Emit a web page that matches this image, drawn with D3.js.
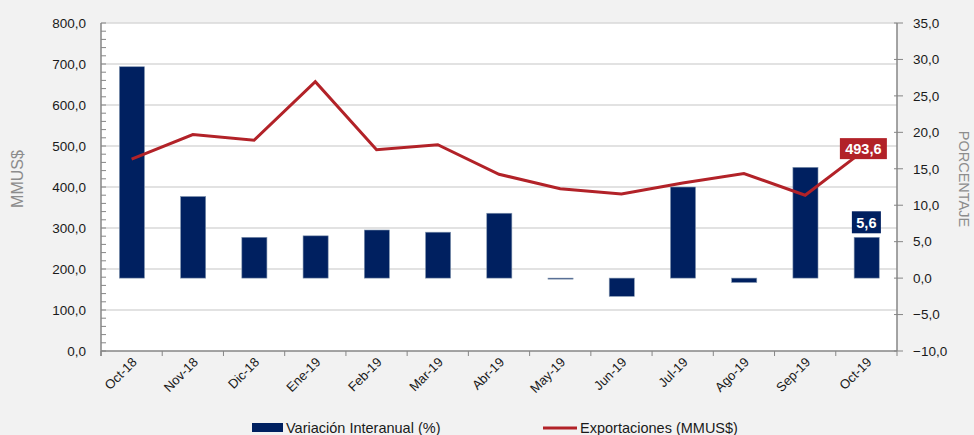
<!DOCTYPE html>
<html>
<head>
<meta charset="utf-8">
<script src="https://cdn.jsdelivr.net/npm/d3@7"></script>
<style>
  body { margin: 0; background: #f2f2f2; }
  svg { display: block; font-family: "Liberation Sans", Arial, sans-serif; }
</style>
</head>
<body>
<div id="chart"></div>
<script>
// data
const months = ["Oct-18", "Nov-18", "Dic-18", "Ene-19", "Feb-19", "Mar-19", "Abr-19",
                "May-19", "Jun-19", "Jul-19", "Ago-19", "Sep-19", "Oct-19"];
const variacion = [29.0, 11.2, 5.6, 5.8, 6.6, 6.3, 8.9, -0.1, -2.5, 12.5, -0.6, 15.2, 5.6];
const exportaciones = [468, 528, 514, 657, 491, 503, 431, 396, 383, 410, 433, 380, 493.6];
const leftTicks = [0, 100, 200, 300, 400, 500, 600, 700, 800];
const rightTicks = [-10, -5, 0, 5, 10, 15, 20, 25, 30, 35];

const width = 974, height = 435;
const margin = {top: 23, right: 77, bottom: 84, left: 101};
const fmt = d => d3.format(".1f")(d).replace(".", ",");

const svg = d3.select("#chart").append("svg")
    .attr("width", width)
    .attr("height", height);

const x = d3.scaleBand()
    .domain(months)
    .range([margin.left, width - margin.right]);

const yL = d3.scaleLinear()
    .domain([0, 800])
    .range([height - margin.bottom, margin.top]);

const yR = d3.scaleLinear()
    .domain([-10, 35])
    .range([height - margin.bottom, margin.top]);

const plotL = margin.left, plotR = width - margin.right;
const plotT = margin.top, plotB = height - margin.bottom;

// plot area
svg.append("rect")
    .attr("x", plotL).attr("y", plotT)
    .attr("width", plotR - plotL).attr("height", plotB - plotT)
    .style("fill", "white");

// gridlines
svg.append("g").selectAll("line")
    .data(leftTicks.filter(d => d > 0))
    .enter().append("line")
    .attr("x1", plotL).attr("x2", plotR)
    .attr("y1", d => yL(d)).attr("y2", d => yL(d))
    .style("stroke", "#d9d9d9")
    .style("stroke-width", 1.5);

// bars
svg.append("g").selectAll("rect")
    .data(variacion)
    .enter().append("rect")
    .attr("x", (d, i) => x(months[i]) + x.bandwidth() * 0.3)
    .attr("width", x.bandwidth() * 0.41)
    .attr("y", d => yR(Math.max(d, 0)))
    .attr("height", d => Math.max(Math.abs(yR(d) - yR(0)), 1))
    .style("fill", "#002060")
    .style("stroke", "#8497b0")
    .style("stroke-width", 0.6);

// line
const line = d3.line()
    .x((d, i) => x(months[i]) + x.bandwidth() / 2)
    .y(d => yL(d));

svg.append("path")
    .datum(exportaciones)
    .attr("d", line)
    .style("fill", "none")
    .style("stroke", "#b22228")
    .style("stroke-width", 3);

// left axis
const axL = svg.append("g").attr("transform", `translate(${plotL},0)`);
axL.append("line")
    .attr("y1", plotT).attr("y2", plotB + 5)
    .style("stroke", "#868686").style("stroke-width", 1.5);
axL.selectAll(".minor")
    .data(d3.range(0, 801, 20))
    .enter().append("line")
    .attr("x1", 0).attr("x2", 5)
    .attr("y1", d => yL(d)).attr("y2", d => yL(d))
    .style("stroke", "#868686");
axL.selectAll("text")
    .data(leftTicks)
    .enter().append("text")
    .attr("x", -15)
    .attr("y", d => yL(d))
    .attr("dy", "0.35em")
    .attr("text-anchor", "end")
    .style("font-size", "13.5px")
    .style("fill", "#1a1a1a")
    .text(fmt);

// right axis
const axR = svg.append("g").attr("transform", `translate(${plotR},0)`);
axR.append("line")
    .attr("y1", plotT).attr("y2", plotB)
    .style("stroke", "#868686").style("stroke-width", 1.5);
axR.selectAll(".tick")
    .data(rightTicks)
    .enter().append("line")
    .attr("x1", -3).attr("x2", 6)
    .attr("y1", d => yR(d)).attr("y2", d => yR(d))
    .style("stroke", "#868686");
axR.selectAll("text")
    .data(rightTicks)
    .enter().append("text")
    .attr("x", 16)
    .attr("y", d => yR(d))
    .attr("dy", "0.35em")
    .style("font-size", "13.5px")
    .style("fill", "#1a1a1a")
    .text(fmt);

// bottom axis
const axB = svg.append("g").attr("transform", `translate(0,${plotB})`);
axB.append("line")
    .attr("x1", plotL).attr("x2", plotR)
    .style("stroke", "#868686").style("stroke-width", 1.5);
axB.selectAll(".tick")
    .data(months.concat(["end"]))
    .enter().append("line")
    .attr("x1", (d, i) => plotL + i * x.step())
    .attr("x2", (d, i) => plotL + i * x.step())
    .attr("y1", 0).attr("y2", 5)
    .style("stroke", "#868686");
axB.selectAll("text")
    .data(months)
    .enter().append("text")
    .attr("text-anchor", "end")
    .attr("transform", d => `translate(${x(d) + x.bandwidth() / 2 + 6},${12}) rotate(-45)`)
    .style("font-size", "13px")
    .style("fill", "#1a1a1a")
    .text(d => d);

// axis titles
svg.append("text")
    .text("MMUS$")
    .attr("transform", `translate(23,${(plotT + plotB) / 2 - 8}) rotate(-90)`)
    .attr("text-anchor", "middle")
    .style("font-size", "16px")
    .style("fill", "#8c8c8c");

svg.append("text")
    .text("PORCENTAJE")
    .attr("transform", `translate(959,${(plotT + plotB) / 2 - 8}) rotate(90)`)
    .attr("text-anchor", "middle")
    .style("font-size", "14.5px")
    .style("fill", "#8c8c8c");

// data labels for last point
const last = months.length - 1;
const lx = x(months[last]) + x.bandwidth() / 2;

const expLabel = svg.append("g")
    .attr("transform", `translate(${lx - 3},${yL(exportaciones[last])})`);
expLabel.append("rect")
    .attr("x", -23.5).attr("y", -10.5)
    .attr("width", 47).attr("height", 21)
    .style("fill", "#b22228");
expLabel.append("text")
    .attr("text-anchor", "middle")
    .attr("dy", "0.36em")
    .style("font-size", "14.5px")
    .style("font-weight", "bold")
    .style("fill", "white")
    .text(fmt(exportaciones[last]));

const varLabel = svg.append("g")
    .attr("transform", `translate(${lx},${yR(variacion[last]) - 15})`);
varLabel.append("rect")
    .attr("x", -14.5).attr("y", -11)
    .attr("width", 29).attr("height", 22)
    .style("fill", "#002060");
varLabel.append("text")
    .attr("text-anchor", "middle")
    .attr("dy", "0.36em")
    .style("font-size", "14.5px")
    .style("font-weight", "bold")
    .style("fill", "white")
    .text(fmt(variacion[last]));

// legend
const legend = svg.append("g").attr("transform", "translate(0,428)");
legend.append("rect")
    .attr("x", 252).attr("y", -5)
    .attr("width", 31).attr("height", 9)
    .style("fill", "#002060");
legend.append("text")
    .attr("x", 286).attr("y", 0)
    .attr("dy", "0.35em")
    .style("font-size", "14.5px")
    .style("fill", "#1a1a1a")
    .text("Variación Interanual (%)");
legend.append("line")
    .attr("x1", 543).attr("x2", 577)
    .style("stroke", "#b22228")
    .style("stroke-width", 3);
legend.append("text")
    .attr("x", 580).attr("y", 0)
    .attr("dy", "0.35em")
    .style("font-size", "14.5px")
    .style("fill", "#1a1a1a")
    .text("Exportaciones (MMUS$)");
</script>
</body>
</html>
